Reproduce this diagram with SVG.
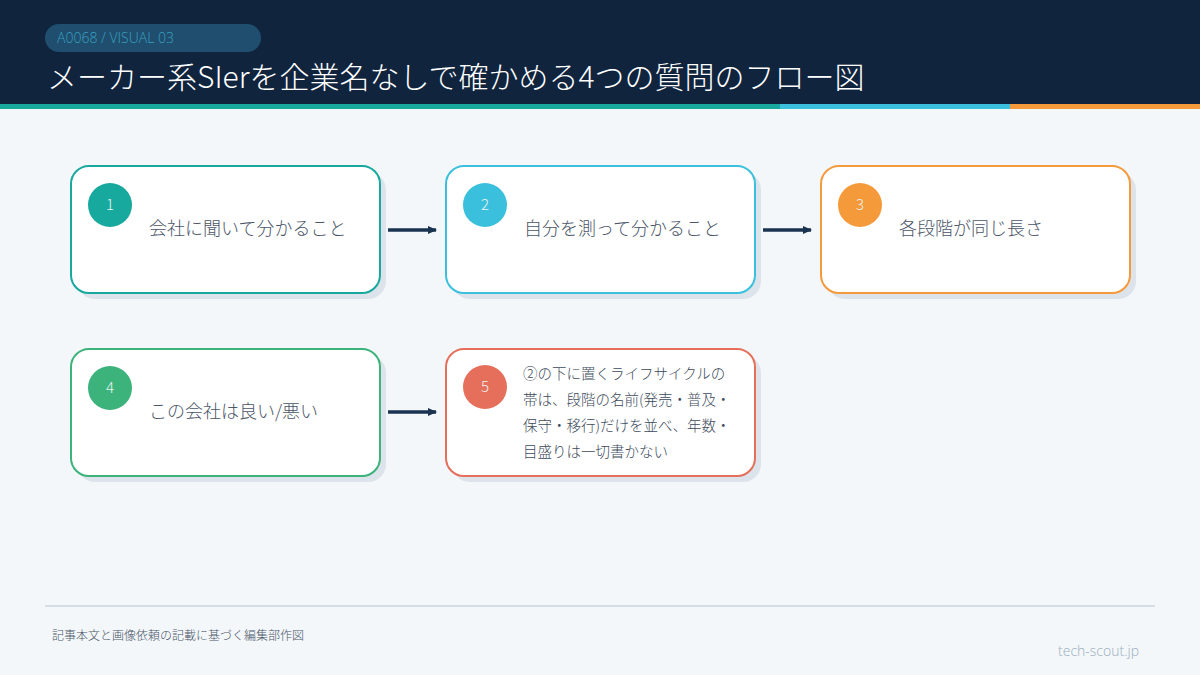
<svg xmlns="http://www.w3.org/2000/svg" width="1200" height="675" viewBox="0 0 1200 675">
<defs>
<style>
text{font-family:"Noto Sans CJK JP","Noto Sans",sans-serif}
.box{fill:#fff;stroke-width:2}
.sh{fill:#dde3ea}
.num{fill:#e8f4f4;font-size:15px;text-anchor:middle;font-weight:300}
.lbl{fill:#4a5568;font-size:18px;font-weight:300}
.lbl2{fill:#3d4a5c;font-size:14.5px;font-weight:300}
.con{stroke:#1a3350;stroke-width:3.5;fill:none}
</style>
<marker id="ah" viewBox="0 0 10 10" refX="8" refY="5" markerWidth="3" markerHeight="3" orient="auto"><path d="M0,1 L9,5 L0,9 z" fill="#1a3350"/></marker>
</defs>
<rect width="1200" height="675" fill="#f3f7fa"/>
<rect width="1200" height="104" fill="#10243e"/>
<rect y="104" width="780" height="5" fill="#17a89e"/>
<rect x="780" y="104" width="230" height="5" fill="#3ac0dc"/>
<rect x="1010" y="104" width="190" height="5" fill="#f59a3a"/>
<rect x="45" y="24" width="216" height="28" rx="14" fill="#1f4e6e"/>
<text x="57" y="43" font-size="14" fill="#3aa0c0" style="font-family:'Open Sans',sans-serif;font-weight:300">A0068 / VISUAL 03</text>
<text x="47" y="88" font-size="30" fill="#fff" font-weight="300">メーカー系SIerを企業名なしで確かめる4つの質問のフロー図</text>

<g id="n1"><rect class="sh" x="77" y="172" width="309" height="127" rx="18"/><rect class="box" x="71" y="166" width="309" height="127" rx="18" stroke="#17a89e"/><circle cx="110" cy="205" r="22" fill="#17a89e"/><text class="num" x="110" y="210">1</text><text class="lbl" x="149" y="235">会社に聞いて分かること</text></g>
<g id="n2"><rect class="sh" x="452" y="172" width="309" height="127" rx="18"/><rect class="box" x="446" y="166" width="309" height="127" rx="18" stroke="#3ac0dc"/><circle cx="485" cy="205" r="22" fill="#3ac0dc"/><text class="num" x="485" y="210">2</text><text class="lbl" x="524" y="235">自分を測って分かること</text></g>
<g id="n3"><rect class="sh" x="827" y="172" width="309" height="127" rx="18"/><rect class="box" x="821" y="166" width="309" height="127" rx="18" stroke="#f59a3a"/><circle cx="860" cy="205" r="22" fill="#f59a3a"/><text class="num" x="860" y="210">3</text><text class="lbl" x="899" y="235">各段階が同じ長さ</text></g>
<g id="n4"><rect class="sh" x="77" y="355" width="309" height="127" rx="18"/><rect class="box" x="71" y="349" width="309" height="127" rx="18" stroke="#3bb37a"/><circle cx="110" cy="388" r="22" fill="#3bb37a"/><text class="num" x="110" y="393">4</text><text class="lbl" x="149" y="418">この会社は良い/悪い</text></g>
<g id="n5"><rect class="sh" x="452" y="355" width="309" height="127" rx="18"/><rect class="box" x="446" y="349" width="309" height="127" rx="18" stroke="#e56f5a"/><circle cx="485" cy="387" r="22" fill="#e56f5a"/><text class="num" x="485" y="392">5</text>
<text class="lbl2" x="523" y="379">②の下に置くライフサイクルの</text><text class="lbl2" x="523" y="405">帯は、段階の名前(発売・普及・</text><text class="lbl2" x="523" y="431">保守・移行)だけを並べ、年数・</text><text class="lbl2" x="523" y="457">目盛りは一切書かない</text></g>

<g id="connectors">
<line class="con" x1="388" y1="230" x2="436" y2="230" marker-end="url(#ah)"/>
<line class="con" x1="763" y1="230" x2="811" y2="230" marker-end="url(#ah)"/>
<line class="con" x1="388" y1="412" x2="436" y2="412" marker-end="url(#ah)"/>
</g>

<line x1="45" y1="606" x2="1155" y2="606" stroke="#d5dee5" stroke-width="2"/>
<text x="52" y="640" font-size="12" fill="#4a5568" font-weight="300">記事本文と画像依頼の記載に基づく編集部作図</text>
<text x="1139" y="656" font-size="14" fill="#9aaebd" text-anchor="end" style="font-family:'Open Sans',sans-serif;font-weight:300">tech-scout.jp</text>
</svg>
